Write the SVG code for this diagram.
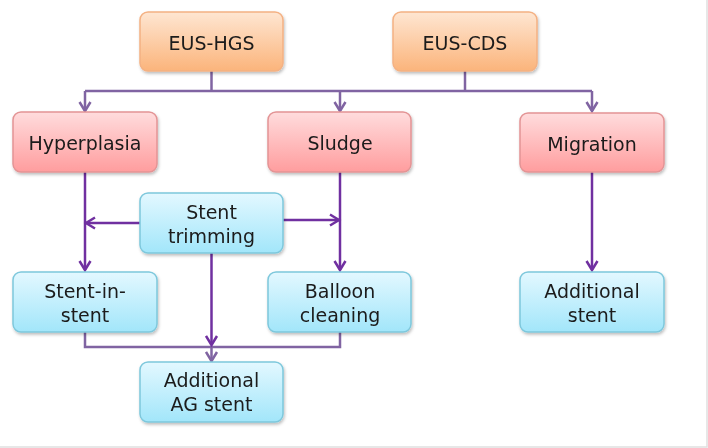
<svg xmlns="http://www.w3.org/2000/svg" width="708" height="448" viewBox="0 0 708 448">
<style>
.t{font-family:"DejaVu Sans","Liberation Sans",sans-serif;font-size:19px;fill:#1a1a1a;text-anchor:middle}
.b{stroke-width:1.5}
.o{fill:url(#go);stroke:#F4B183}
.p{fill:url(#gp);stroke:#E39495}
.c{fill:url(#gc);stroke:#7EC8DC}
.l1{fill:none;stroke:#8064A2;stroke-width:2.5}
.l2{fill:none;stroke:#7030A0;stroke-width:2.5}
</style>
<defs>
<linearGradient id="go" x1="0" y1="0" x2="0" y2="1"><stop offset="0" stop-color="#FEE6D2"/><stop offset="1" stop-color="#FBB47B"/></linearGradient>
<linearGradient id="gp" x1="0" y1="0" x2="0" y2="1"><stop offset="0" stop-color="#FFDCDD"/><stop offset="1" stop-color="#FF9D9E"/></linearGradient>
<linearGradient id="gc" x1="0" y1="0" x2="0" y2="1"><stop offset="0" stop-color="#E3F8FF"/><stop offset="1" stop-color="#A2E6FA"/></linearGradient>
<filter id="sh" x="-10%" y="-10%" width="130%" height="140%"><feDropShadow dx="1" dy="2" stdDeviation="1.5" flood-color="#000" flood-opacity="0.25"/></filter>
<marker id="a1" markerWidth="14" markerHeight="14" refX="11" refY="7" orient="auto" markerUnits="userSpaceOnUse"><polyline points="2,1.5 11,7 2,12.5" fill="none" stroke="#8064A2" stroke-width="2.5"/></marker>
<marker id="a2" markerWidth="14" markerHeight="14" refX="11" refY="7" orient="auto" markerUnits="userSpaceOnUse"><polyline points="2,1.5 11,7 2,12.5" fill="none" stroke="#7030A0" stroke-width="2.5"/></marker>
</defs>
<rect x="0" y="0" width="708" height="448" fill="#fff"/>
<path d="M707 0V447H0" fill="none" stroke="#E0E0E0" stroke-width="1.5"/>
<g id="connectors">
<path class="l1" d="M211.5 71V91"/>
<path class="l1" d="M465 71V91"/>
<path class="l1" d="M85 91H592"/>
<path class="l1" d="M85 91V111" marker-end="url(#a1)"/>
<path class="l1" d="M340 91V111" marker-end="url(#a1)"/>
<path class="l1" d="M592 91V111" marker-end="url(#a1)"/>
<path class="l2" d="M85 172V270" marker-end="url(#a2)"/>
<path class="l2" d="M340 172V270" marker-end="url(#a2)"/>
<path class="l2" d="M592 172V270" marker-end="url(#a2)"/>
<path class="l2" d="M140 223H86" marker-end="url(#a2)"/>
<path class="l2" d="M283 220H339" marker-end="url(#a2)"/>
<path class="l1" d="M85 332V347H340V332"/>
<path class="l1" d="M211.5 347V361" marker-end="url(#a1)"/>
<path class="l2" d="M211.5 253V345" marker-end="url(#a2)"/>
</g>
<g id="eus-hgs" filter="url(#sh)"><rect class="o b" x="140" y="12" width="143" height="59" rx="8"/><text class="t" x="211.5" y="50">EUS-HGS</text></g>
<g id="eus-cds" filter="url(#sh)"><rect class="o b" x="393" y="12" width="144" height="59" rx="8"/><text class="t" x="465" y="50">EUS-CDS</text></g>
<g id="hyperplasia" filter="url(#sh)"><rect class="p b" x="13" y="112" width="144" height="60" rx="8"/><text class="t" x="85" y="150">Hyperplasia</text></g>
<g id="sludge" filter="url(#sh)"><rect class="p b" x="268" y="112" width="143" height="60" rx="8"/><text class="t" x="340" y="150">Sludge</text></g>
<g id="migration" filter="url(#sh)"><rect class="p b" x="520" y="113" width="144" height="59" rx="8"/><text class="t" x="592" y="151">Migration</text></g>
<g id="stent-trimming" filter="url(#sh)"><rect class="c b" x="140" y="193" width="143" height="60" rx="8"/><text class="t" x="211.5" y="219">Stent</text><text class="t" x="211.5" y="243">trimming</text></g>
<g id="stent-in-stent" filter="url(#sh)"><rect class="c b" x="13" y="272" width="144" height="60" rx="8"/><text class="t" x="85" y="298">Stent-in-</text><text class="t" x="85" y="322">stent</text></g>
<g id="balloon-cleaning" filter="url(#sh)"><rect class="c b" x="268" y="272" width="143" height="60" rx="8"/><text class="t" x="340" y="298">Balloon</text><text class="t" x="340" y="322">cleaning</text></g>
<g id="additional-stent" filter="url(#sh)"><rect class="c b" x="520" y="272" width="144" height="60" rx="8"/><text class="t" x="592" y="298">Additional</text><text class="t" x="592" y="322">stent</text></g>
<g id="additional-ag-stent" filter="url(#sh)"><rect class="c b" x="140" y="362" width="143" height="60" rx="8"/><text class="t" x="211.5" y="387">Additional</text><text class="t" x="211.5" y="411">AG stent</text></g>
</svg>
